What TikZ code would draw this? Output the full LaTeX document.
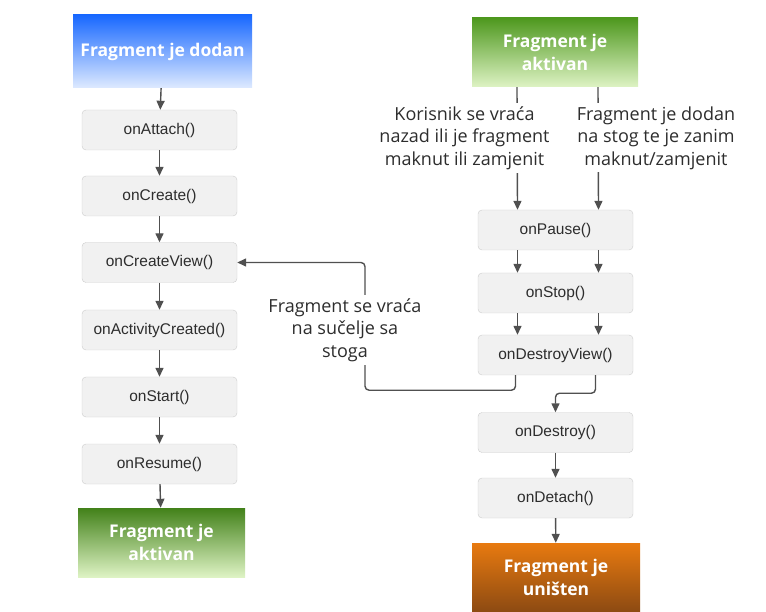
\documentclass[tikz,border=0pt]{standalone}
\usepackage{fontspec}
\setmainfont{Liberation Sans}
\newfontfamily\notefont{Open Sans}
\usepackage{tikz}
\usetikzlibrary{arrows.meta}
\definecolor{boxfill}{RGB}{241,241,241}
\definecolor{boxline}{RGB}{204,204,204}
\definecolor{boxtext}{RGB}{45,45,45}
\definecolor{linegray}{RGB}{80,80,80}
\definecolor{addedtop}{RGB}{24,104,255}
\definecolor{addedbot}{RGB}{222,234,255}
\definecolor{activetop}{RGB}{78,152,30}
\definecolor{activebot}{RGB}{222,243,196}
\definecolor{gonetop}{RGB}{232,122,16}
\definecolor{gonebot}{RGB}{140,74,18}

\begin{document}
\begin{tikzpicture}[x=1pt, y=-1pt,
  stepbox/.style={rectangle, draw=boxline, fill=boxfill, rounded corners=4pt,
                  minimum width=155pt, minimum height=40pt,
                  font=\fontsize{15.5}{18}\selectfont, text=boxtext},
  state/.style={rectangle, align=center, text=white, minimum height=70pt,
                font=\notefont\bfseries\fontsize{17.5}{23}\selectfont},
  note/.style={fill=white, align=center, inner sep=3pt, text=boxtext,
               font=\notefont\fontsize{18}{22.5}\selectfont},
  flow/.style={draw=linegray, line width=1.4pt, -{Triangle[length=9pt, width=8pt]}},
  link/.style={draw=linegray, line width=1.4pt, rounded corners=4pt},
]
  \useasboundingbox (0,0) rectangle (766,612);

  % left column: fragment is added
  \node[state, minimum width=179pt, minimum height=73pt, top color=addedtop, bottom color=addedbot]
    (added) at (162.5,51.5) {Fragment je dodan};
  \node[stepbox] (attach)  at (159.5,130) {onAttach()};
  \node[stepbox] (create)  at (159.5,196) {onCreate()};
  \node[stepbox] (cview)   at (159.5,262.5) {onCreateView()};
  \node[stepbox] (actcr)   at (159.5,330) {onActivityCreated()};
  \node[stepbox] (start)   at (159.5,397) {onStart()};
  \node[stepbox] (resume)  at (159.5,464) {onResume()};
  \node[state, minimum width=167pt, minimum height=69pt, top color=activetop!85!black, bottom color=activebot]
    (activeL) at (161.5,542.5) {Fragment je\\aktivan};

  \draw[flow] (added) -- (attach);
  \draw[flow] (attach) -- (create);
  \draw[flow] (create) -- (cview);
  \draw[flow] (cview) -- (actcr);
  \draw[flow] (actcr) -- (start);
  \draw[flow] (start) -- (resume);
  \draw[flow] (resume) -- (activeL);

  % right column: fragment is removed
  \node[state, minimum width=166pt, minimum height=69pt, top color=activetop, bottom color=activebot]
    (activeR) at (555,52.5) {Fragment je\\aktivan};
  \node[stepbox] (pause)   at (555.5,230) {onPause()};
  \node[stepbox] (stop)    at (555.5,293) {onStop()};
  \node[stepbox] (dview)   at (555.5,355) {onDestroyView()};
  \node[stepbox] (destroy) at (555.5,432.5) {onDestroy()};
  \node[stepbox] (detach)  at (555.5,498) {onDetach()};
  \node[state, minimum width=168pt, minimum height=69pt, top color=gonetop, bottom color=gonebot]
    (gone) at (556,577.5) {Fragment je\\uništen};

  \draw[flow] ([xshift=-38pt]activeR.south) -- ([xshift=-38pt]pause.north);
  \draw[flow] ([xshift=43pt]activeR.south) -- ([xshift=43pt]pause.north);
  \draw[flow] ([xshift=-38pt]pause.south) -- ([xshift=-38pt]stop.north);
  \draw[flow] ([xshift=43pt]pause.south) -- ([xshift=43pt]stop.north);
  \draw[flow] ([xshift=-38pt]stop.south) -- ([xshift=-38pt]dview.north);
  \draw[flow] ([xshift=43pt]stop.south) -- ([xshift=43pt]dview.north);
  \draw[link, flow] ([xshift=40pt]dview.south) -- ++(0,18) -| (destroy.north);
  \draw[flow] (destroy) -- (detach);
  \draw[flow] (detach) -- (gone);

  % back to the screen from the back stack
  \coordinate (backbend) at (365,0);
  \draw[link, flow] ([xshift=-40pt]dview.south) -- ++(0,15) -| (backbend |- cview.east) -- (cview.east);

  \node[note] (userback) at (464.5,138) {Korisnik se vraća\\nazad ili je fragment\\maknut ili zamjenit};
  \node[note] (tostack)  at (656,138) {Fragment je dodan\\na stog te je zanim\\maknut/zamjenit};
  \node[note] (fromstack) at (345,330) {Fragment se vraća\\na sučelje sa\\stoga};
\end{tikzpicture}
\end{document}
